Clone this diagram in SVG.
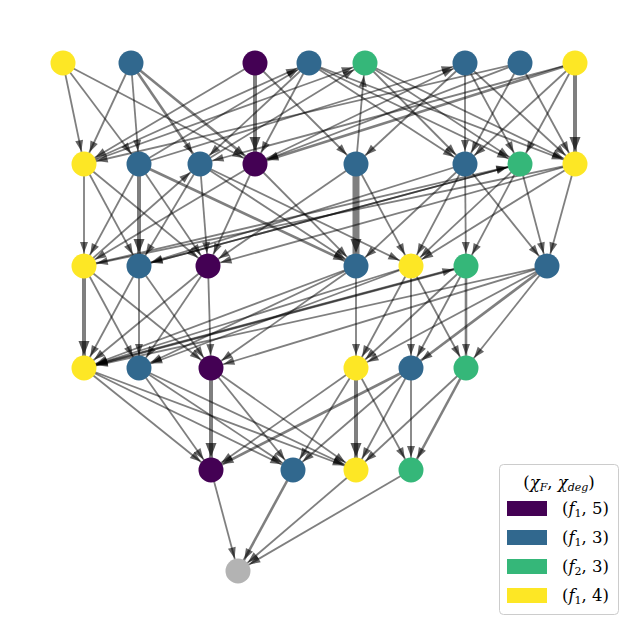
<svg xmlns="http://www.w3.org/2000/svg" width="639" height="635" viewBox="0 0 639 635">
<style>
.e line{stroke:#000;stroke-opacity:.5;stroke-width:1.8;marker-end:url(#a)}
.e line.t{stroke-width:4;marker-end:url(#b)}
.e line.m{stroke-width:2.6}
.e line.x{stroke-width:7;stroke-linecap:round;marker-end:url(#b)}
.n circle{stroke:none}
.p{fill:#440154}.bl{fill:#31688e}.g{fill:#35b779}.y{fill:#fde725}.gr{fill:#b3b3b3}
.lg text{font-family:"DejaVu Serif","Liberation Serif",serif;font-size:16.5px;fill:#000}
</style>
<defs>
<marker id="a" markerUnits="userSpaceOnUse" markerWidth="30" markerHeight="14" viewBox="0 -7 30 14" refX="26" refY="0" orient="auto" overflow="visible"><path d="M2,-4 L13,0 L2,4 Z" fill="#000" fill-opacity=".6"/></marker>
<marker id="b" markerUnits="userSpaceOnUse" markerWidth="32" markerHeight="16" viewBox="0 -8 32 16" refX="27" refY="0" orient="auto" overflow="visible"><path d="M0,-5.5 L14,0 L0,5.5 Z" fill="#000" fill-opacity=".65"/></marker>
</defs>
<rect width="639" height="635" fill="#fff"/>
<g id="edges" class="e">
<line x1="63" y1="63" x2="84" y2="164"/>
<line x1="63" y1="63" x2="139" y2="164"/>
<line x1="63" y1="63" x2="255" y2="164"/>
<line x1="131" y1="63" x2="84" y2="164"/>
<line x1="131" y1="63" x2="139" y2="164"/>
<line x1="131" y1="63" x2="200" y2="164" class="m"/>
<line x1="131" y1="63" x2="255" y2="164" class="m"/>
<line x1="255" y1="63" x2="255" y2="164" class="t"/>
<line x1="255" y1="63" x2="84" y2="164"/>
<line x1="255" y1="63" x2="356" y2="164"/>
<line x1="309" y1="63" x2="200" y2="164"/>
<line x1="309" y1="63" x2="255" y2="164"/>
<line x1="309" y1="63" x2="465" y2="164"/>
<line x1="309" y1="63" x2="520" y2="164"/>
<line x1="309" y1="63" x2="575" y2="164"/>
<line x1="365" y1="63" x2="465" y2="164"/>
<line x1="365" y1="63" x2="520" y2="164"/>
<line x1="365" y1="63" x2="575" y2="164"/>
<line x1="465" y1="63" x2="465" y2="164"/>
<line x1="465" y1="63" x2="356" y2="164"/>
<line x1="465" y1="63" x2="520" y2="164"/>
<line x1="465" y1="63" x2="575" y2="164"/>
<line x1="520" y1="63" x2="575" y2="164"/>
<line x1="520" y1="63" x2="465" y2="164"/>
<line x1="520" y1="63" x2="84" y2="164"/>
<line x1="520" y1="63" x2="255" y2="164"/>
<line x1="575" y1="63" x2="575" y2="164" class="t"/>
<line x1="575" y1="63" x2="520" y2="164"/>
<line x1="575" y1="63" x2="465" y2="164"/>
<line x1="575" y1="63" x2="255" y2="164" class="m"/>
<line x1="575" y1="63" x2="200" y2="164"/>
<line x1="84" y1="164" x2="309" y2="63"/>
<line x1="139" y1="164" x2="309" y2="63"/>
<line x1="84" y1="164" x2="365" y2="63"/>
<line x1="200" y1="164" x2="365" y2="63"/>
<line x1="139" y1="164" x2="465" y2="63"/>
<line x1="255" y1="164" x2="465" y2="63"/>
<line x1="356" y1="164" x2="365" y2="63"/>
<line x1="84" y1="164" x2="84" y2="266"/>
<line x1="84" y1="164" x2="139" y2="266"/>
<line x1="84" y1="164" x2="208" y2="266"/>
<line x1="139" y1="164" x2="84" y2="266"/>
<line x1="139" y1="164" x2="139" y2="266" class="t"/>
<line x1="139" y1="164" x2="208" y2="266"/>
<line x1="139" y1="164" x2="356" y2="266" class="m"/>
<line x1="200" y1="164" x2="139" y2="266"/>
<line x1="200" y1="164" x2="208" y2="266"/>
<line x1="200" y1="164" x2="356" y2="266"/>
<line x1="200" y1="164" x2="411" y2="266"/>
<line x1="84" y1="266" x2="200" y2="164"/>
<line x1="255" y1="164" x2="84" y2="266"/>
<line x1="255" y1="164" x2="208" y2="266"/>
<line x1="255" y1="164" x2="356" y2="266"/>
<line x1="356" y1="164" x2="356" y2="266" class="x"/>
<line x1="356" y1="164" x2="411" y2="266"/>
<line x1="356" y1="164" x2="208" y2="266"/>
<line x1="465" y1="164" x2="356" y2="266"/>
<line x1="465" y1="164" x2="411" y2="266"/>
<line x1="465" y1="164" x2="466" y2="266"/>
<line x1="465" y1="164" x2="547" y2="266"/>
<line x1="465" y1="164" x2="139" y2="266"/>
<line x1="520" y1="164" x2="411" y2="266"/>
<line x1="520" y1="164" x2="466" y2="266"/>
<line x1="520" y1="164" x2="547" y2="266"/>
<line x1="520" y1="164" x2="139" y2="266"/>
<line x1="575" y1="164" x2="411" y2="266"/>
<line x1="575" y1="164" x2="547" y2="266"/>
<line x1="575" y1="164" x2="84" y2="266"/>
<line x1="575" y1="164" x2="208" y2="266"/>
<line x1="84" y1="266" x2="520" y2="164"/>
<line x1="139" y1="266" x2="520" y2="164"/>
<line x1="84" y1="266" x2="84" y2="368" class="t"/>
<line x1="84" y1="266" x2="139" y2="368"/>
<line x1="84" y1="266" x2="211" y2="368"/>
<line x1="139" y1="266" x2="84" y2="368"/>
<line x1="139" y1="266" x2="139" y2="368"/>
<line x1="139" y1="266" x2="211" y2="368"/>
<line x1="208" y1="266" x2="84" y2="368"/>
<line x1="208" y1="266" x2="139" y2="368"/>
<line x1="208" y1="266" x2="211" y2="368"/>
<line x1="356" y1="266" x2="356" y2="368"/>
<line x1="356" y1="266" x2="84" y2="368"/>
<line x1="356" y1="266" x2="139" y2="368"/>
<line x1="356" y1="266" x2="211" y2="368"/>
<line x1="411" y1="266" x2="356" y2="368"/>
<line x1="411" y1="266" x2="411" y2="368"/>
<line x1="411" y1="266" x2="466" y2="368"/>
<line x1="411" y1="266" x2="84" y2="368"/>
<line x1="411" y1="266" x2="139" y2="368"/>
<line x1="466" y1="266" x2="356" y2="368"/>
<line x1="466" y1="266" x2="411" y2="368"/>
<line x1="466" y1="266" x2="466" y2="368" class="m"/>
<line x1="466" y1="266" x2="84" y2="368"/>
<line x1="547" y1="266" x2="356" y2="368"/>
<line x1="547" y1="266" x2="411" y2="368" class="m"/>
<line x1="547" y1="266" x2="466" y2="368"/>
<line x1="547" y1="266" x2="84" y2="368"/>
<line x1="547" y1="266" x2="211" y2="368"/>
<line x1="84" y1="368" x2="466" y2="266" class="m"/>
<line x1="84" y1="368" x2="211" y2="470"/>
<line x1="84" y1="368" x2="293" y2="470"/>
<line x1="84" y1="368" x2="356" y2="470"/>
<line x1="139" y1="368" x2="211" y2="470"/>
<line x1="139" y1="368" x2="293" y2="470"/>
<line x1="139" y1="368" x2="356" y2="470"/>
<line x1="211" y1="368" x2="211" y2="470" class="t"/>
<line x1="211" y1="368" x2="293" y2="470"/>
<line x1="211" y1="368" x2="356" y2="470"/>
<line x1="356" y1="368" x2="211" y2="470"/>
<line x1="356" y1="368" x2="293" y2="470"/>
<line x1="356" y1="368" x2="356" y2="470" class="t"/>
<line x1="356" y1="368" x2="411" y2="470"/>
<line x1="411" y1="368" x2="211" y2="470" class="m"/>
<line x1="411" y1="368" x2="293" y2="470"/>
<line x1="411" y1="368" x2="356" y2="470"/>
<line x1="411" y1="368" x2="411" y2="470"/>
<line x1="466" y1="368" x2="356" y2="470"/>
<line x1="466" y1="368" x2="411" y2="470" class="m"/>
<line x1="211" y1="470" x2="238" y2="571"/>
<line x1="293" y1="470" x2="238" y2="571" class="m"/>
<line x1="356" y1="470" x2="238" y2="571"/>
<line x1="411" y1="470" x2="238" y2="571"/>
</g>
<g class="n">
<g id="A1"><circle class="y" cx="63" cy="63" r="12.5"/></g>
<g id="A2"><circle class="bl" cx="131" cy="63" r="12.5"/></g>
<g id="A3"><circle class="p" cx="255" cy="63" r="12.5"/></g>
<g id="A4"><circle class="bl" cx="309" cy="63" r="12.5"/></g>
<g id="A5"><circle class="g" cx="365" cy="63" r="12.5"/></g>
<g id="A6"><circle class="bl" cx="465" cy="63" r="12.5"/></g>
<g id="A7"><circle class="bl" cx="520" cy="63" r="12.5"/></g>
<g id="A8"><circle class="y" cx="575" cy="63" r="12.5"/></g>
<g id="B1"><circle class="y" cx="84" cy="164" r="12.5"/></g>
<g id="B2"><circle class="bl" cx="139" cy="164" r="12.5"/></g>
<g id="B3"><circle class="bl" cx="200" cy="164" r="12.5"/></g>
<g id="B4"><circle class="p" cx="255" cy="164" r="12.5"/></g>
<g id="B5"><circle class="bl" cx="356" cy="164" r="12.5"/></g>
<g id="B6"><circle class="bl" cx="465" cy="164" r="12.5"/></g>
<g id="B7"><circle class="g" cx="520" cy="164" r="12.5"/></g>
<g id="B8"><circle class="y" cx="575" cy="164" r="12.5"/></g>
<g id="C1"><circle class="y" cx="84" cy="266" r="12.5"/></g>
<g id="C2"><circle class="bl" cx="139" cy="266" r="12.5"/></g>
<g id="C3"><circle class="p" cx="208" cy="266" r="12.5"/></g>
<g id="C4"><circle class="bl" cx="356" cy="266" r="12.5"/></g>
<g id="C5"><circle class="y" cx="411" cy="266" r="12.5"/></g>
<g id="C6"><circle class="g" cx="466" cy="266" r="12.5"/></g>
<g id="C7"><circle class="bl" cx="547" cy="266" r="12.5"/></g>
<g id="D1"><circle class="y" cx="84" cy="368" r="12.5"/></g>
<g id="D2"><circle class="bl" cx="139" cy="368" r="12.5"/></g>
<g id="D3"><circle class="p" cx="211" cy="368" r="12.5"/></g>
<g id="D4"><circle class="y" cx="356" cy="368" r="12.5"/></g>
<g id="D5"><circle class="bl" cx="411" cy="368" r="12.5"/></g>
<g id="D6"><circle class="g" cx="466" cy="368" r="12.5"/></g>
<g id="E1"><circle class="p" cx="211" cy="470" r="12.5"/></g>
<g id="E2"><circle class="bl" cx="293" cy="470" r="12.5"/></g>
<g id="E3"><circle class="y" cx="356" cy="470" r="12.5"/></g>
<g id="E4"><circle class="g" cx="411" cy="470" r="12.5"/></g>
<g id="F"><circle class="gr" cx="238" cy="571" r="12.5"/></g>
</g>
<g id="legend" class="lg">
<rect x="499.5" y="464.5" width="119" height="150" rx="4" fill="#fff" fill-opacity=".8" stroke="#ccc"/>
<text x="559" y="488" text-anchor="middle">(<tspan font-style="italic">χ</tspan><tspan font-size="11" dy="3" font-style="italic">F</tspan><tspan dy="-3">, </tspan><tspan font-style="italic">χ</tspan><tspan font-size="11" dy="3" font-style="italic">deg</tspan><tspan dy="-3">)</tspan></text>
<rect x="507" y="501" width="40" height="15" class="p"/>
<rect x="507" y="530" width="40" height="15" class="bl"/>
<rect x="507" y="559" width="40" height="15" class="g"/>
<rect x="507" y="588" width="40" height="15" class="y"/>
<text x="562" y="514">(<tspan font-style="italic">f</tspan><tspan font-size="11" dy="3">1</tspan><tspan dy="-3">, 5)</tspan></text>
<text x="562" y="543">(<tspan font-style="italic">f</tspan><tspan font-size="11" dy="3">1</tspan><tspan dy="-3">, 3)</tspan></text>
<text x="562" y="572">(<tspan font-style="italic">f</tspan><tspan font-size="11" dy="3">2</tspan><tspan dy="-3">, 3)</tspan></text>
<text x="562" y="601">(<tspan font-style="italic">f</tspan><tspan font-size="11" dy="3">1</tspan><tspan dy="-3">, 4)</tspan></text>
</g>
</svg>
